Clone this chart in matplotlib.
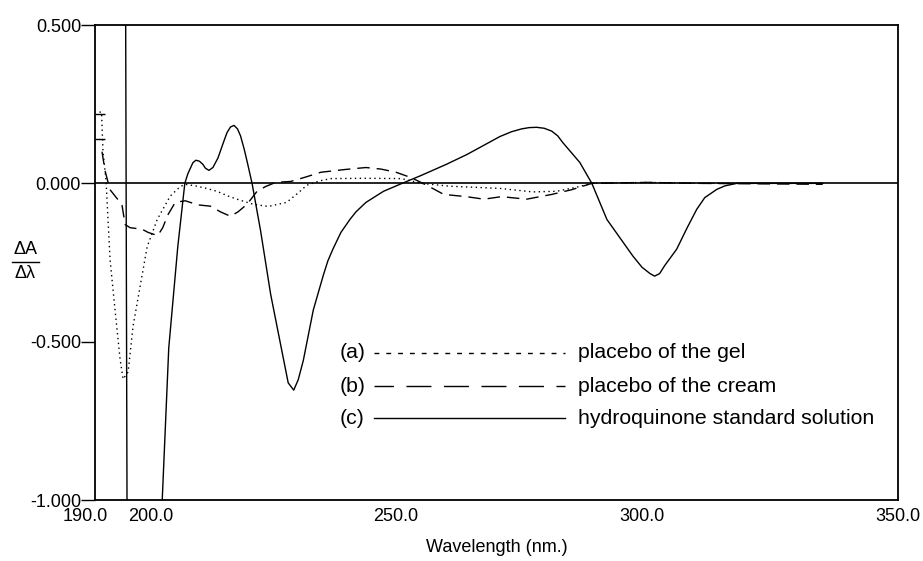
import numpy as np
import matplotlib
matplotlib.use('Agg')
import matplotlib.pyplot as plt
import matplotlib.transforms as mtransforms
from matplotlib.lines import Line2D

plt.rcParams['font.family'] = ['Liberation Sans', 'DejaVu Sans']
sizel = 13
sizek = 15.3

# (a) placebo of the gel
wl_a = [190.9, 191.3, 191.6, 192.2, 193.0, 194.0, 195.0, 195.6, 196.6, 197.6, 199.0,
        200.4, 202.4, 205.0, 207.0, 208.0, 210.0, 212.0, 214.3, 216.5, 218.3,
        221.5, 224.5, 228.2, 230.5, 232.2, 234.8, 237.0, 244.0, 251.0, 253.0,
        255.0, 260.7, 265.0, 270.7, 277.2, 282.0, 286.6, 289.0, 300.0, 310.0, 335.0]
da_a = [0.225, 0.225, 0.10, 0.01, -0.24, -0.40, -0.555, -0.618, -0.596, -0.45, -0.325,
        -0.20, -0.114, -0.04, -0.01, -0.003, -0.008, -0.015, -0.025, -0.04, -0.05,
        -0.066, -0.073, -0.06, -0.03, -0.006, 0.008, 0.015, 0.016, 0.015, 0.008,
        0.0, -0.009, -0.012, -0.016, -0.027, -0.025, -0.01, 0.0, 0.003, 0.0, 0.0]

# (b) placebo of the cream
wl_b = [191.4, 192.0, 193.0, 194.5, 195.4, 196.0, 197.0, 199.4, 200.6, 202.5,
        203.5, 204.5, 206.0, 208.0, 210.5, 213.0, 215.0, 217.0, 218.5, 220.3,
        222.3, 224.0, 226.0, 229.0, 232.0, 235.0, 240.0, 244.0, 247.0, 250.0,
        253.0, 256.0, 259.5, 264.0, 267.5, 271.0, 276.0, 281.0, 285.0, 289.0,
        300.0, 310.0, 335.0]
da_b = [0.10, 0.04, -0.02, -0.05, -0.07, -0.13, -0.14, -0.145, -0.155, -0.165,
        -0.14, -0.10, -0.06, -0.055, -0.068, -0.072, -0.09, -0.104, -0.09, -0.066,
        -0.025, -0.01, 0.003, 0.006, 0.02, 0.035, 0.044, 0.05, 0.045, 0.035,
        0.018, -0.005, -0.035, -0.042, -0.05, -0.042, -0.05, -0.035, -0.02, 0.0,
        0.003, 0.0, -0.003]

# (c) hydroquinone standard solution
wl_c = [196.1, 196.4, 202.5, 203.4, 204.7, 206.5, 207.9, 208.5, 209.5, 210.1,
        210.8, 211.5, 212.0, 212.7, 213.5, 214.5, 215.5, 216.3, 217.0, 217.7,
        218.4, 219.0, 219.7, 220.3, 221.3, 223.0, 225.0, 227.5, 228.5, 229.6,
        230.5, 231.5, 233.5, 235.5, 236.4, 237.4, 239.0, 240.8, 242.0, 244.0,
        247.5, 251.2, 255.0, 260.0, 264.1, 270.7, 273.0, 275.0, 276.5, 278.0,
        279.5, 281.0, 282.2, 283.2, 286.6, 289.0, 292.0, 297.2, 299.0, 300.6,
        301.5, 302.5, 303.5, 305.9, 308.0, 309.9, 311.5, 313.9, 315.5, 317.9, 335.0]
da_c = [0.60, -1.10, -1.10, -1.00, -0.52, -0.20, 0.0, 0.03, 0.065, 0.073,
        0.07, 0.06, 0.048, 0.041, 0.05, 0.08, 0.125, 0.16, 0.178, 0.183,
        0.172, 0.15, 0.11, 0.07, 0.0, -0.15, -0.35, -0.55, -0.63, -0.653,
        -0.62, -0.56, -0.40, -0.29, -0.245, -0.208, -0.155, -0.114, -0.09, -0.06,
        -0.025, 0.0, 0.025, 0.06, 0.091, 0.148, 0.163, 0.172, 0.176, 0.177,
        0.174, 0.165, 0.15, 0.129, 0.066, 0.0, -0.114, -0.23, -0.265, -0.285,
        -0.293, -0.285, -0.26, -0.208, -0.14, -0.082, -0.045, -0.019, -0.008, 0.0, 0.0]

labels = ['(a)', '(b)', '(c)']
names = ['placebo of the gel', 'placebo of the cream', 'hydroquinone standard solution']

styles = [(0, (1, 2.5)), (0, (9, 5)), '-']
key_styles = [(0, (3.5, 5)), (4, (18, 9)), '-']

fig = plt.figure(figsize=(9.23, 5.61), dpi=100)
ax = fig.add_axes([0.1029, 0.1087, 0.8700, 0.8467])

ax.axhline(0, color='black', lw=1.2)
ax.plot(wl_a, da_a, color='black', lw=1.0, ls=styles[0])
ax.plot(wl_b, da_b, color='black', lw=1.0, ls=styles[1])
ax.plot(wl_c, da_c, color='black', lw=1.0, ls=styles[2])

ax.set_xlim(190, 350)
ax.set_ylim(-1.0, 0.5)
for s in ax.spines.values():
    s.set_linewidth(1.3)

xt = [190, 200, 250, 300, 350]
ax.set_xticks(xt)
ax.set_xticklabels(['%.1f' % v for v in xt], fontsize=sizel)
ax.tick_params(axis='x', which='major', length=0, pad=6)
ax.set_xticks([200], minor=True)
ax.tick_params(axis='x', which='minor', direction='in', length=7, top=True, width=1.2)
# nudge the crowded labels apart as in the original
shifts = [-10, 6, 0, -5, 0]
for lab, dx in zip(ax.get_xticklabels(), shifts):
    lab.set_transform(lab.get_transform() + mtransforms.ScaledTranslation(dx / 100, 0, fig.dpi_scale_trans))

yt = [0.5, 0.0, -0.5, -1.0]
ax.set_yticks(yt)
ax.set_yticklabels(['%.3f' % v for v in yt], fontsize=sizel)
ax.tick_params(axis='y', which='major', direction='out', length=10, width=1.0, pad=0)
ax.set_yticks([0.22, 0.14], minor=True)
ax.tick_params(axis='y', which='minor', direction='in', length=7, width=1.0)

ax.set_xlabel('Wavelength (nm.)', fontsize=sizel, labelpad=10)

# y label as a fraction
fig.text(25 / 923, 1 - 250 / 561, '\u0394A', fontsize=sizel, ha='center', va='center')
fig.text(25 / 923, 1 - 274 / 561, '\u0394\u03bb', fontsize=sizel, ha='center', va='center')
fig.add_artist(Line2D([12 / 923, 39 / 923], [1 - 262 / 561] * 2, color='black', lw=1.0))

# key
ys = [353, 386, 418]
for lab, name, st, y in zip(labels, names, key_styles, ys):
    yf = 1 - y / 561
    fig.text(340 / 923, yf, lab, fontsize=sizek, ha='left', va='center')
    fig.add_artist(Line2D([374 / 923, 565 / 923], [yf, yf], color='black', lw=1.0, ls=st))
    fig.text(578 / 923, yf, name, fontsize=sizek, ha='left', va='center')

fig.savefig('out.png', dpi=100)
